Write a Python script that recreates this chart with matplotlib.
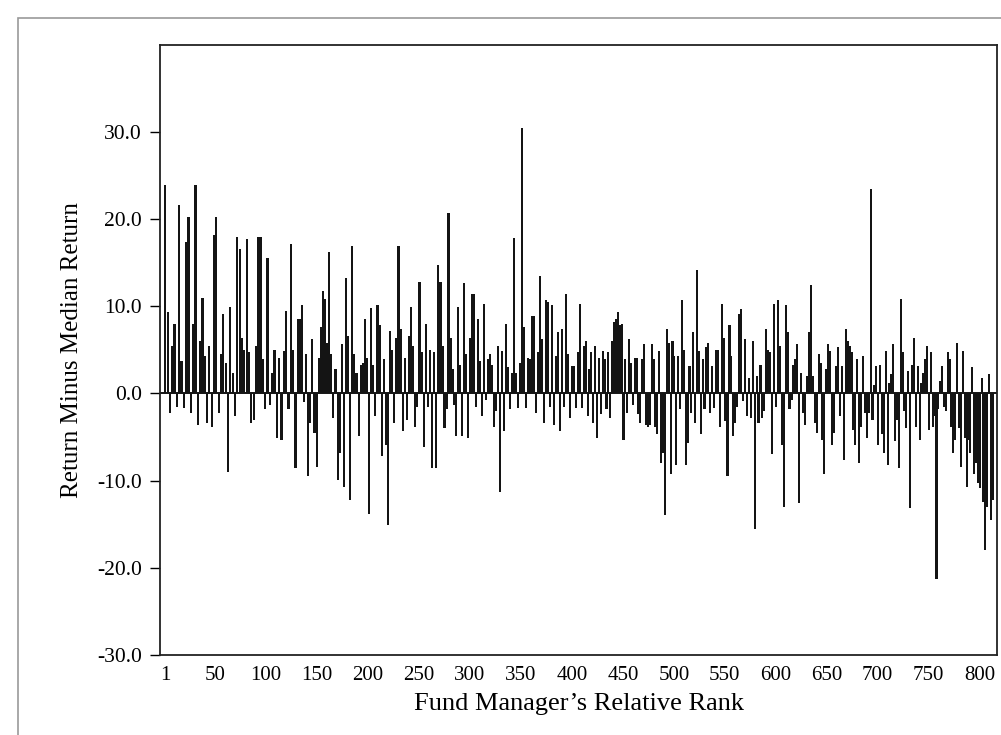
import numpy as np
import matplotlib.pyplot as plt
from matplotlib.patches import Rectangle

# return minus median return (left to right)
seg_1 = [23.9, 9.3, -2.2, 5.5, 8.0, -1.5, 21.6, 3.7, -1.7, 17.4, 20.3, -2.2, 8.0, 23.9,
         -3.6, 6.0, 11.0, 4.3, -3.4, 5.5, -3.8, 18.2, 20.3, -2.2, 4.5, 9.1, 3.5, -9.0,
         9.9, 2.4, -2.6, 18.0, 16.6, 6.4, 5.0, 17.7, 4.7, -3.4, -3.0, 5.5, 18.0, 18.0,
         3.9, -1.8, 15.5, -1.3, 2.4, 5.0, -5.1, 4.1, -5.3, 4.9, 9.5, -1.8, 17.2, 5.0,
         -8.6, 8.5]
seg_2 = [8.5, 10.1, -1.0, 4.5, -9.5, -3.4, 6.2, -4.5, -8.4, 4.1, 7.6, 11.8, 10.8, 5.8,
         16.2, 4.5, -2.8, 2.8, -9.9, -6.8, 5.7, -10.7, 13.2, 6.6, -12.2, 16.9, 4.5, 2.4,
         -4.9, 3.3, 3.5, 8.5, 4.1, -13.8, 9.8, 3.3, -2.6, 10.1, 7.8, -7.2, 3.9, -5.9,
         -15.1, 7.2, 5.0, -3.4, 6.4, 16.9, 7.4, -4.3, 4.1, -3.0, 6.6, 9.9, 5.5, -3.8,
         -1.5, 12.8, 4.7, -6.1, 8.0, -1.5, 5.0, -8.6, 4.7, -8.6, 14.7]
seg_3 = [12.8, 5.5, -4.0, -1.8, 20.7, 6.4, 2.8, -1.3, -4.9, 9.9, 3.3, -4.9, 12.7, 4.5,
         -5.1, 6.4, 11.4, 11.4, -1.5, 8.5, 3.7, -2.6, 10.3, -0.7, 3.9, 4.5, 3.3, -3.8,
         -2.0, 5.5, -11.3, 4.9, -4.3, 8.0, 3.0, -1.8, 2.4, 17.8, 2.4, -1.7, 3.5, 30.5,
         7.6, -1.7, 4.1, 3.9, 8.9, 8.9, -2.2, 4.7, 13.5, 6.2, -3.4, 10.7, 10.5, -1.5,
         10.1, -3.6, 4.3, 7.0, -4.3, 7.4, -1.5, 11.4, 4.5, -2.8, 3.2, 3.2, -1.7, 4.7]
seg_4 = [10.3, -1.7, 5.5, 6.0, -2.6, 2.8, 4.7, -3.4, 5.5, -5.1, 4.1, -2.4, 4.9, 3.9,
         -1.8, 4.7, -2.8, 6.0, 8.2, 8.5, 9.3, 7.8, 8.0, -5.3, 3.9, -2.2, 6.2, 3.5, -1.3,
         4.1, 4.1, -2.4, -3.4, 3.9, 5.7, -3.6, -3.8, -3.6, 5.7, 3.9, -3.8, -4.7, 4.9,
         -8.0, -6.8, -14.0, 7.4, 5.8, -9.2, 6.0, 4.3, -8.2, 4.3, -1.8, 10.7, 5.0, -8.2,
         -5.7, 3.2, -2.2, 7.0, -3.4, 14.2, 4.9, -4.7, 3.9, -1.8, 5.3, 5.8, -2.2, 3.2,
         -1.7, 5.0, 5.0]
seg_5 = [-3.8, 10.3, 6.4, -3.2, -9.5, 7.8, 4.3, -4.9, -3.4, -1.5, 9.1, 9.7, -0.9, 6.2,
         -2.6, 1.8, -2.8, 6.0, -15.5, 2.0, -3.4, 3.3, -2.8, -2.0, 7.4, 5.0, 4.7, -7.0,
         10.3, -1.5, 10.7, 5.5, -5.9, -13.0, 10.1, 7.0, -1.8, -0.7, 3.3, 3.9, 5.7,
         -12.6, 2.4, -2.2, -3.6, 2.0, 7.0, 12.4, 2.0, -3.4, -4.5, 4.5, 3.5, -5.3, -9.3,
         2.8, 5.7, 4.9, -5.9, -4.5, 3.2, 5.3, -2.6, 3.2, -7.6, 7.4, 6.0, 5.5, 4.7, -4.2,
         -5.9, 3.9]
seg_6 = [-8.0, -3.8, 4.3, -2.2, -5.1, -2.2, 23.5, -3.0, 1.0, 3.2, -5.9, 3.3, -4.7, -6.8,
         4.9, -8.2, 1.2, 2.2, 5.7, -5.5, -3.0, -8.6, 10.8, 4.7, -2.0, -4.0, 2.6, -13.2,
         3.3, 6.4, -3.8, 3.2, -5.3, 1.2, 2.4, 3.9, 5.5, -4.2, 4.7, -3.8, -2.6, -21.3,
         -1.8, 1.4, 3.2, -1.5, -2.0, 4.7, 3.9, -3.8, -6.8, -5.3, 5.8, -4.0, -8.4, 4.9,
         -5.1, -10.7, -5.3, -6.8, 3.0, -9.2, -8.0, -10.3, -10.9, 1.8, -12.4, -18.0,
         -13.0, 2.2, -14.5, -12.2]
segments = [seg_1, seg_2, seg_3, seg_4, seg_5, seg_6]
# rank range covered by each segment
seg_edges = [1, 133, 271, 408, 545, 682, 815]

tick_ranks = [1] + list(range(50, 801, 50))

plt.rcParams['font.family'] = ['Liberation Serif', 'DejaVu Serif']
plt.rcParams['axes.unicode_minus'] = False

fig = plt.figure(figsize=(10.01, 7.35), dpi=100)
ax = fig.add_axes([0.160, 0.109, 0.836, 0.830])

for i, seg in enumerate(segments):
    x = np.linspace(seg_edges[i], seg_edges[i + 1] - 2, len(seg))
    ax.bar(x, seg, width=2.1, color='#141414', linewidth=0)

ax.axhline(0, color='#141414', lw=1.4)
ax.set_xlim(-4, 817)
ax.set_ylim(-30, 40)
ax.set_yticks([30, 20, 10, 0, -10, -20, -30])
ax.set_yticklabels([f"{v:.1f}" for v in [30, 20, 10, 0, -10, -20, -30]])
ax.set_xticks(tick_ranks)
ax.set_xticklabels([str(v) for v in tick_ranks])
ax.tick_params(axis='y', direction='out', length=7, width=1, labelsize=15.5, pad=6)
ax.tick_params(axis='x', length=0, labelsize=15, pad=8)
for s in ax.spines.values():
    s.set_linewidth(1.3)
    s.set_color('#222222')

ax.set_ylabel("Return Minus Median Return", fontsize=18, labelpad=10)
ax.set_xlabel("Fund Manager\u2019s Relative Rank", fontsize=19, labelpad=6)

# scan border
fig.patches.append(Rectangle((0.018, -0.01), 1.0, 0.985, transform=fig.transFigure,
                             fill=False, edgecolor='#999999', lw=1.2))

fig.savefig("out.png", dpi=100)
